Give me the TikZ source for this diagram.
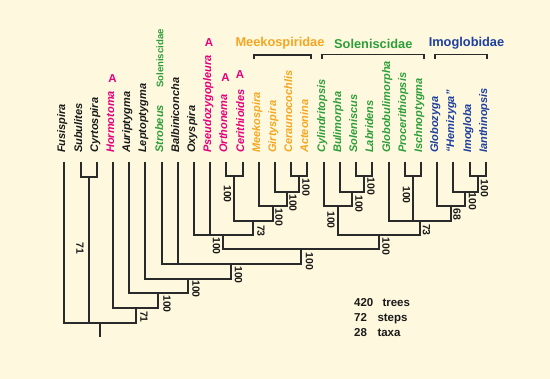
\documentclass[tikz,border=0pt]{standalone}
\usepackage{fontspec}
\setmainfont{Liberation Sans}
\definecolor{bg}{HTML}{FEF9DE}
\definecolor{tblack}{HTML}{1A1A1A}
\definecolor{tmag}{HTML}{E5007D}
\definecolor{torange}{HTML}{F5A623}
\definecolor{tgreen}{HTML}{2E9E3A}
\definecolor{tblue}{HTML}{1E3F9E}
\definecolor{linec}{HTML}{2A2A2A}
\tikzset{
  tree/.style={line width=1.8pt, draw=linec, line join=miter},
  taxon/.style={rotate=90, inner sep=0pt, font=\bfseries\itshape\fontsize{11}{13}\selectfont},
  bs/.style={rotate=-90, inner sep=0pt, text=tblack, font=\bfseries\fontsize{10.5}{12}\selectfont},
  fam/.style={inner sep=0pt, font=\bfseries\fontsize{12.8}{14}\selectfont},
  amark/.style={inner sep=0pt, text=tmag, font=\bfseries\fontsize{11.5}{13}\selectfont},
  stat/.style={inner sep=0pt, anchor=base west, text=tblack, font=\bfseries\fontsize{11.5}{13}\selectfont},
}
\begin{document}
\begin{tikzpicture}[x=1pt,y=-1pt]
\path[fill=bg,use as bounding box] (0,0) rectangle (550,379);
% tips and names
\foreach \n/\c [count=\i from 0] in {Fusispira/tblack, Subulites/tblack, Cyrtospira/tblack, Hormotoma/tmag, Auriptygma/tblack, Leptoptygma/tblack, Strobeus/tgreen, Balbiniconcha/tblack, Oxyspira/tblack, Pseudozygopleura/tmag, Orthonema/tmag, Cerithioides/tmag, Meekospira/torange, Girtyspira/torange, Ceraunocochlis/torange, Acteonina/torange, Cylindritopsis/tgreen, Bulimorpha/tgreen, Soleniscus/tgreen, Labridens/tgreen, Globobulimorpha/tgreen, Procerithiopsis/tgreen, Ischnoptygma/tgreen, Globozyga/tblue, “Hemizyga”/tblue, Imogloba/tblue, Ianthinopsis/tblue} {
  \pgfmathsetmacro\xx{round(64.3+16.21*\i)}
  \coordinate (t\i) at (\xx,162);
  \node[taxon, text=\c, anchor=base west] (n\i) at (\xx+1,153) {\n};
}
% internal nodes
\coordinate (SC) at (89,177);
\coordinate (R) at (100,323);
\coordinate (Rb) at (100,337);
\coordinate (A) at (136,308);
\coordinate (B) at (158,293);
\coordinate (C) at (188,279);
\coordinate (D) at (231,264);
\coordinate (E) at (301,249);
\coordinate (F) at (223,235);
\coordinate (G) at (253,221);
\coordinate (H) at (234,176);
\coordinate (I) at (273,206);
\coordinate (J) at (287,192);
\coordinate (K) at (299,176);
\coordinate (S) at (379,235);
\coordinate (T) at (338,206);
\coordinate (U) at (352,192);
\coordinate (V) at (364,176);
\coordinate (W) at (420,221);
\coordinate (X) at (413,176);
\coordinate (Y) at (451,206);
\coordinate (Z) at (465,192);
\coordinate (AA) at (478,176);
% branches
\draw[tree] (t1) |- (SC) (t2) |- (SC) (t0) |- (R) (SC) |- (R) (A) |- (R) (R) -- (Rb)
  (t3) |- (A) (B) |- (A)
  (t4) |- (B) (C) |- (B)
  (t5) |- (C) (D) |- (C)
  (t6) |- (D) (t7) |- (D) (E) |- (D)
  (F) |- (E) (S) |- (E)
  (t8) |- (F) (t9) |- (F) (G) |- (F)
  (H) |- (G) (I) |- (G)
  (t10) |- (H) (t11) |- (H)
  (t12) |- (I) (J) |- (I)
  (t13) |- (J) (K) |- (J)
  (t14) |- (K) (t15) |- (K)
  (T) |- (S) (W) |- (S)
  (t16) |- (T) (U) |- (T)
  (t17) |- (U) (V) |- (U)
  (t18) |- (V) (t19) |- (V)
  (t20) |- (W) (X) |- (W) (Y) |- (W)
  (t21) |- (X) (t22) |- (X)
  (t23) |- (Y) (Z) |- (Y)
  (t24) |- (Z) (AA) |- (Z)
  (t25) |- (AA) (t26) |- (AA);
% support values
\node[bs] (lR) at (80,248.3) {71};
\node[bs] (lA) at (144,317) {71};
\node[bs] (lB) at (167,304) {100};
\node[bs] (lC) at (196,289) {100};
\node[bs] (lD) at (238.5,275) {100};
\node[bs] (lE) at (309.5,261.5) {100};
\node[bs] (lF) at (216.5,246) {100};
\node[bs] (lG) at (261,231) {73};
\node[bs] (lH) at (227.5,194) {100};
\node[bs] (lI) at (279,217.5) {100};
\node[bs] (lJ) at (293,203) {100};
\node[bs] (lK) at (306,187.5) {100};
\node[bs] (lS) at (386,246.5) {100};
\node[bs] (lT) at (331,220) {100};
\node[bs] (lU) at (359,204) {100};
\node[bs] (lV) at (371,186.5) {100};
\node[bs] (lW) at (426.5,230) {73};
\node[bs] (lX) at (406.5,195) {100};
\node[bs] (lY) at (457,214.5) {68};
\node[bs] (lZ) at (472.5,201.5) {100};
\node[bs] (lAA) at (484.5,188.5) {100};
% family headers and brackets
\node[fam, text=torange] (fMe) at (280,43.5) {Meekospiridae};
\node[fam, text=tgreen] (fSo) at (373.3,43.5) {Soleniscidae};
\node[fam, text=tblue] (fIm) at (466.5,43.5) {Imoglobidae};
\coordinate (mb1) at (254,59.5);
\coordinate (mb2) at (311,59.5);
\coordinate (sb1) at (322,59);
\coordinate (sb2) at (424,59);
\coordinate (ib1) at (435,59);
\coordinate (ib2) at (487,59);
\draw[tree] (mb1) -- ++(0,-4.5) -| (mb2);
\draw[tree] (sb1) -- ++(0,-4.5) -| (sb2);
\draw[tree] (ib1) -- ++(0,-4.5) -| (ib2);
\node[rotate=90, inner sep=0pt, text=tgreen, font=\bfseries\fontsize{9.6}{11}\selectfont] (strobfam) at (160,58.5) {Soleniscidae};
% A marks
\node[amark] (a1) at (112.5,79) {A};
\node[amark] (a2) at (209,43) {A};
\node[amark] (a3) at (225.5,78) {A};
\node[amark] (a4) at (240,75) {A};
% statistics
\node[stat] (s1n) at (354,306.5) {420};
\node[stat] (s1w) at (382.3,306.5) {trees};
\node[stat] (s2n) at (354,322) {72};
\node[stat] (s2w) at (377.3,322) {steps};
\node[stat] (s3n) at (354,336.5) {28};
\node[stat] (s3w) at (377.3,336.5) {taxa};
\end{tikzpicture}
\end{document}
